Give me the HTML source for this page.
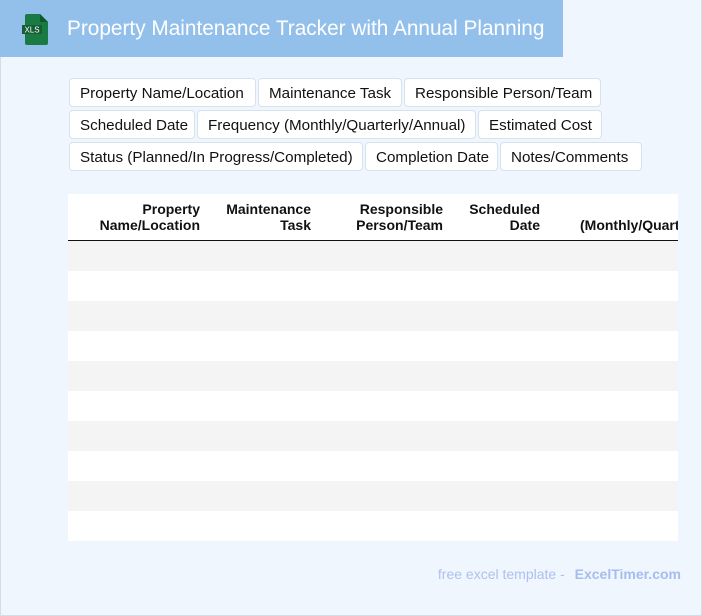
<!DOCTYPE html>
<html><head><meta charset="utf-8"><style>
*{margin:0;padding:0;box-sizing:border-box}
body{width:702px;height:616px;background:#f0f6fe;position:relative;overflow:hidden;font-family:"Liberation Sans",sans-serif}
.frame{position:absolute;left:0;top:0;width:702px;height:616px;border:1px solid #d4dce6;border-top:none}
.hdr{position:absolute;left:0;top:0;width:563px;height:57px;background:#93c0ea}
.title{position:absolute;left:67px;top:17px;color:#fff;font-size:20.8px;white-space:nowrap}
.chip{position:absolute;height:29px;background:#fff;border:1px solid #d6e2ee;border-radius:4px;font-size:15.2px;color:#111;line-height:29px;padding-left:10px;white-space:nowrap}
.tbl{position:absolute;left:68px;top:194px;width:610px;height:347px;background:#fff;overflow:hidden}
.th{position:absolute;top:7px;font-weight:bold;font-size:14px;line-height:16px;text-align:right;color:#111;white-space:nowrap}
.line{position:absolute;left:0;top:46px;width:610px;height:1px;background:#111}
.row{position:absolute;left:0;width:610px;height:30px}
.foot{position:absolute;right:21px;top:566px;font-size:14px;color:#adc1ee;white-space:nowrap}
.foot b{color:#a5bdee;margin-left:6px}
</style></head><body>
<div class="frame"></div>
<div class="hdr">
<svg style="position:absolute;left:22px;top:13px" width="28" height="32" viewBox="0 0 28 32"><path d="M5 1h13l8 8v21a2 2 0 0 1-2 2H5a2 2 0 0 1-2-2V3a2 2 0 0 1 2-2z" fill="#1a7a43"/><path d="M18 1v8h8z" fill="#0e5a30"/><rect x="0" y="12" width="20" height="9" fill="#135e33"/><text x="10" y="19.5" fill="#fff" font-size="8" font-family="Liberation Sans" text-anchor="middle">XLS</text></svg>
<div class="title">Property Maintenance Tracker with Annual Planning</div>
</div>
<div class="chip" style="left:69px;top:78px;width:187px">Property Name/Location</div>
<div class="chip" style="left:258px;top:78px;width:144px">Maintenance Task</div>
<div class="chip" style="left:404px;top:78px;width:197px">Responsible Person/Team</div>
<div class="chip" style="left:69px;top:110px;width:126px">Scheduled Date</div>
<div class="chip" style="left:197px;top:110px;width:279px">Frequency (Monthly/Quarterly/Annual)</div>
<div class="chip" style="left:478px;top:110px;width:124px">Estimated Cost</div>
<div class="chip" style="left:69px;top:142px;width:294px">Status (Planned/In Progress/Completed)</div>
<div class="chip" style="left:365px;top:142px;width:133px">Completion Date</div>
<div class="chip" style="left:500px;top:142px;width:142px">Notes/Comments</div>
<div class="tbl">
<div class="th" style="right:478px">Property<br>Name/Location</div>
<div class="th" style="right:367px">Maintenance<br>Task</div>
<div class="th" style="right:235px">Responsible<br>Person/Team</div>
<div class="th" style="right:138px">Scheduled<br>Date</div>
<div class="th" style="left:512px;text-align:left"><br>(Monthly/Quarterly/Annual)</div>
<div class="line"></div>
<div class="row" style="top:47px;background:#f4f4f4"></div>
<div class="row" style="top:107px;background:#f4f4f4"></div>
<div class="row" style="top:167px;background:#f4f4f4"></div>
<div class="row" style="top:227px;background:#f4f4f4"></div>
<div class="row" style="top:287px;background:#f4f4f4"></div>
</div>
<div class="foot">free excel template - <b>ExcelTimer.com</b></div>
</body></html>
